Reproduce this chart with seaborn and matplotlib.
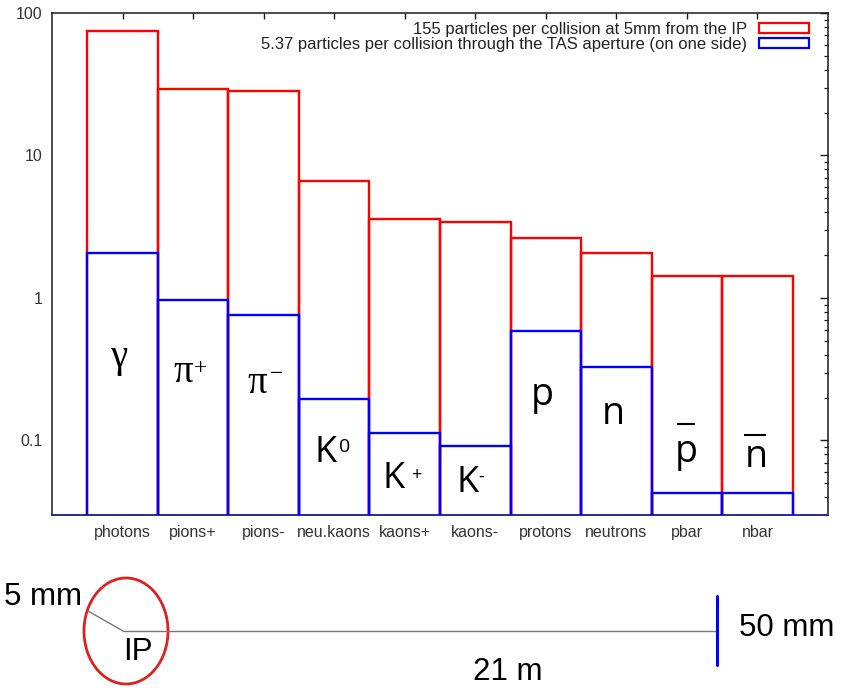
import matplotlib
matplotlib.use("Agg")
import matplotlib.pyplot as plt
from matplotlib.patches import Patch, Ellipse
from matplotlib.ticker import LogLocator, NullFormatter, FixedLocator
import seaborn as sns

# Particle species produced per collision
categories = ["photons", "pions+", "pions-", "neu.kaons", "kaons+",
              "kaons-", "protons", "neutrons", "pbar", "nbar"]
# particles per collision at 5 mm from the IP
near_ip = [75.0, 29.3, 28.5, 6.6, 3.58, 3.40, 2.64, 2.06, 1.43, 1.43]
# particles per collision through the TAS aperture (one side)
through_tas = [2.08, 0.97, 0.756, 0.195, 0.112, 0.091, 0.59, 0.327, 0.043, 0.043]

legend_labels = ["155 particles per collision at 5mm from the IP",
                 "5.37 particles per collision through the TAS aperture (on one side)"]

RED = "#ff0000"
BLUE = "#0000ff"

sns.set_theme(style="white")
plt.rcParams["font.family"] = ["Liberation Sans", "DejaVu Sans"]

W, H = 841, 688
fig = plt.figure(figsize=(W / 100, H / 100), dpi=100)
ax = fig.add_axes([52 / W, 1 - 515 / H, (828 - 52) / W, (515 - 13) / H])
ax.set_yscale("log")

sns.barplot(x=categories, y=near_ip, order=categories, ax=ax, fill=False,
            width=1.0, color=RED, saturation=1, errorbar=None, linewidth=1.7)
sns.barplot(x=categories, y=through_tas, order=categories, ax=ax, fill=False,
            width=1.0, color=BLUE, saturation=1, errorbar=None, linewidth=1.7)
for p in ax.patches[:len(categories)]:
    p.set_edgecolor(RED)
for p in ax.patches[len(categories):]:
    p.set_edgecolor(BLUE)
    p.set_zorder(3)

ax.set_xlim(-1, 10)
ax.set_ylim(0.03, 100)
ax.set_xlabel("")
ax.set_ylabel("")

ax.yaxis.set_major_locator(FixedLocator([0.1, 1, 10, 100]))
ax.set_yticklabels(["0.1", "1", "10", "100"])
ax.yaxis.set_minor_locator(LogLocator(base=10, subs=range(2, 10), numticks=20))
ax.yaxis.set_minor_formatter(NullFormatter())

for s in ax.spines.values():
    s.set_visible(True)
    s.set_color("#1a1a1a")
    s.set_linewidth(1.1)
ax.spines["bottom"].set_color("#2b2b8a")
ax.spines["bottom"].set_linewidth(1.4)

ax.tick_params(axis="both", which="both", direction="in", top=True, right=True,
               colors="#1a1a1a", labelcolor="#333333", labelsize=11.5)
ax.tick_params(axis="y", which="major", length=6, width=1, pad=7)
ax.tick_params(axis="y", which="minor", length=3, width=0.9)
ax.tick_params(axis="x", which="major", length=4, width=1, pad=7)
ax.tick_params(axis="x", which="minor", bottom=False, top=False)

handles = [Patch(facecolor="white", edgecolor=RED, linewidth=1.6),
           Patch(facecolor="white", edgecolor=BLUE, linewidth=1.6)]
fig.legend(handles, legend_labels, loc="upper right",
           bbox_to_anchor=(809 / W, 1 - 22 / H), frameon=False,
           markerfirst=False, fontsize=12, handlelength=3.0, handleheight=0.5,
           handletextpad=0.7, labelspacing=0.0, borderpad=0, borderaxespad=0,
           labelcolor="#222222")

# Species symbols inside the bars
greek = dict(family=["Liberation Serif", "DejaVu Serif"], color="black",
             ha="center", va="baseline")
latin = dict(family=["Open Sans", "DejaVu Sans"], color="black",
             ha="center", va="baseline")
ax.text(-0.06, 0.327, "γ", fontsize=28, **greek)
ax.text(0.857, 0.256, "π", fontsize=28, **greek)
ax.text(1.112, 0.292, "+", fontsize=17, **greek)
ax.text(1.912, 0.214, "π", fontsize=28, **greek)
ax.text(2.188, 0.265, "−", fontsize=17, **greek)
ax.text(2.875, 0.0703, "K", fontsize=26, **latin)
ax.text(3.144, 0.0826, "0", fontsize=14, **latin)
ax.text(3.846, 0.0461, "K", fontsize=26, **latin)
ax.text(4.164, 0.0526, "+", fontsize=13, **latin)
ax.text(4.894, 0.0433, "K", fontsize=26, **latin)
ax.text(5.085, 0.0516, "-", fontsize=13, **latin)
ax.text(5.956, 0.177, "p", fontsize=27, **latin)
ax.text(6.962, 0.130, "n", fontsize=27, **latin)
ax.text(7.99, 0.0703, "p", fontsize=27, **latin)
ax.text(8.98, 0.0648, "n", fontsize=27, **latin)
ax.hlines([0.130, 0.109], [7.86, 8.81], [8.12, 9.12], colors="black",
          linewidth=1.5, zorder=4)

# Sketch of the geometry: IP region and TAS aperture
dax = fig.add_axes([0, 0, 1, 158 / H])
dax.set_xlim(0, W)
dax.set_ylim(H, 530)
dax.axis("off")
dax.add_patch(Ellipse((126, 631), 84, 106, facecolor="none",
                      edgecolor="#e02020", linewidth=2.0))
dax.plot([123, 717], [631, 631], color="#777777", linewidth=1.0)
dax.plot([88, 123], [611, 631], color="#777777", linewidth=1.0)
dax.plot([717, 717], [596, 665], color=BLUE, linewidth=2.2)
plain = dict(family=["Liberation Sans", "DejaVu Sans"], color="black",
             fontsize=22.5)
dax.text(4, 597, "5 mm", ha="left", va="center", **plain)
dax.text(138, 652, "IP", ha="center", va="center", **plain)
dax.text(508, 672, "21 m", ha="center", va="center", **plain)
dax.text(739, 628, "50 mm", ha="left", va="center", **plain)

fig.savefig("out.png", dpi=100)
